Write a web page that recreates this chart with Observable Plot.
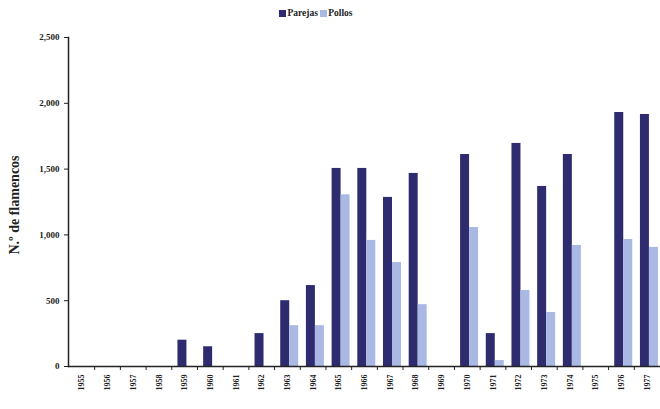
<!DOCTYPE html>
<html><head><meta charset="utf-8">
<script src="https://cdn.jsdelivr.net/npm/d3@7"></script>
<script src="https://cdn.jsdelivr.net/npm/@observablehq/plot@0.6"></script>
<style>
body{margin:0;background:#fff;font-family:"Liberation Serif",serif;}
#legend{height:26px;display:flex;justify-content:center;align-items:center;font-weight:bold;font-size:9.5px;color:#222;padding-right:28px}
#legend span.sw{display:inline-block;width:7px;height:7px;margin-right:1px}
</style></head><body>
<div id="legend"><span class="sw" style="background:#2e2c6e"></span>Parejas&nbsp;<span class="sw" style="background:#a9b9e3"></span>Pollos</div>
<div id="chart"></div>
<script>
const years = ["1955","1956","1957","1958","1959","1960","1961","1962","1963","1964","1965","1966","1967","1968","1969","1970","1971","1972","1973","1974","1975","1976","1977"];
const parejas = [0,0,0,0,200,150,0,250,500,615,1505,1505,1285,1467,0,1611,250,1695,1368,1611,0,1930,1915];
const pollos  = [0,0,0,0,0,0,0,0,310,310,1305,958,790,470,0,1056,45,578,410,920,0,965,905];
const yTicks = [0,500,1000,1500,2000,2500];

const rowsP = years.map((y,i)=>({year:y, value:parejas[i]}));
const rowsQ = years.map((y,i)=>({year:y, value:pollos[i]}));

const chart = Plot.plot({
  width:660, height:383,
  marginLeft:68, marginRight:0, marginTop:11, marginBottom:43,
  style:{fontFamily:"Liberation Serif, serif", fontSize:"9px", fontWeight:"bold", color:"#222"},
  x:{domain:years, paddingInner:0.65, paddingOuter:0.345, round:false, label:null},
  y:{domain:[0,2500], ticks:yTicks, tickFormat:d3.format(","), label:null},
  marks:[
    Plot.barY(rowsP,{x:"year", y:"value", fill:"#2e2c6e", dx:-2.2}),
    Plot.barY(rowsQ,{x:"year", y:"value", fill:"#a9b9e3", dx:6.8}),
    Plot.ruleY([0],{stroke:"#222", strokeWidth:1.5}),
    Plot.ruleX(years.slice(0,-1),{x:d=>d, y1:0, y2:0, dx:12.85, insetBottom:-4, stroke:"#222"}),
    Plot.frame({anchor:"left", stroke:"#222", strokeWidth:1.5}),
    Plot.axisY({ticks:yTicks, tickFormat:d3.format(","), tickSize:4, label:null, fontSize:9}),
    Plot.axisX({tickSize:0, tickRotate:-90, tickPadding:8, label:null, fontSize:8}),
    Plot.text(["N.º de flamencos"],{frameAnchor:"left", textAnchor:"middle", dx:-54, dy:3, rotate:-90, fontSize:14, fontWeight:"bold"})
  ]
});
document.getElementById("chart").append(chart);
</script>
</body></html>
